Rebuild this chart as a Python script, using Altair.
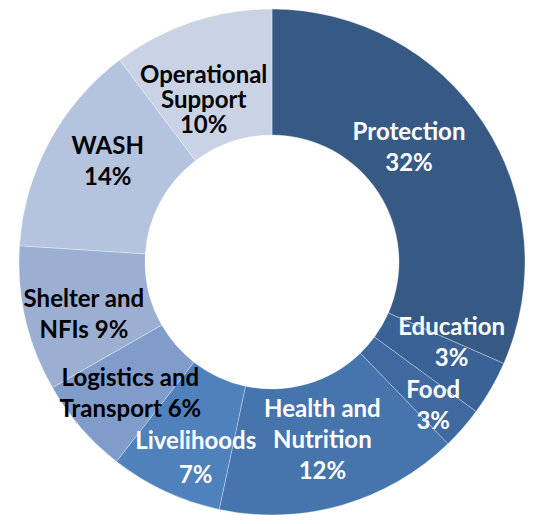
import altair as alt
import pandas as pd

sectors = ["Protection", "Education", "Food", "Health and Nutrition", "Livelihoods",
           "Logistics and Transport", "Shelter and NFIs", "WASH", "Operational Support"]
# slice shares
shares = [31.6, 3.5, 2.7, 15.6, 7.2, 6.2, 9.3, 13.7, 10.3]
# label texts as printed on the chart
labels = ["Protection\n32%", "Education\n3%", "Food\n3%", "Health and\nNutrition\n12%",
          "Livelihoods\n7%", "Logistics and\nTransport  6%", "Shelter and\nNFIs 9%",
          "WASH\n14%", "Operational\nSupport\n10%"]
palette = ["#375a84", "#3b6296", "#3f699f", "#4674ad", "#4f81bd",
           "#7f9ccb", "#9bafd2", "#b4c3de", "#cad3e5"]
text_colors = ["#ffffff"] * 5 + ["#000000"] * 4

df = pd.DataFrame({"sector": sectors, "share": shares, "label": labels,
                   "idx": list(range(len(sectors)))})
total = float(sum(shares))
theta_scale = alt.Scale(domain=[0, total])

# label nudges (pixels) relative to the slice mid-angle anchor, like Excel's placement
nudge = {
    "Protection": (-22, -10), "Education": (15, -13), "Food": (18, 20),
    "Health and Nutrition": (-2, -4), "Livelihoods": (4, 25),
    "Logistics and Transport": (2, 8), "Shelter and NFIs": (-3, 11),
    "WASH": (3, -9), "Operational Support": (-8, 19),
}
line_heights = {"Operational Support": 25, "Livelihoods": 34}

arcs = alt.Chart(df).mark_arc(innerRadius=127, outerRadius=253, stroke="#ffffff",
                              strokeWidth=0.7, strokeOpacity=0.45).encode(
    theta=alt.Theta("share:Q", stack=True, scale=theta_scale),
    order=alt.Order("idx:Q"),
    color=alt.Color("sector:N", scale=alt.Scale(domain=sectors, range=palette), legend=None),
)

label_base = alt.Chart(df).transform_window(
    cum="sum(share)", sort=[alt.SortField("idx")], frame=[None, 0]
).transform_calculate(mid="datum.cum - datum.share / 2")

layers = [arcs]
for i, s in enumerate(sectors):
    n = labels[i].count("\n") + 1
    lh = line_heights.get(s, 31)
    dx, dy = nudge[s]
    layers.append(
        label_base.mark_text(radius=190, font="Lato", fontWeight="bold", fontSize=24,
                             lineHeight=lh, lineBreak="\n", align="center",
                             baseline="middle", color=text_colors[i],
                             dx=dx, dy=dy - (n - 1) * lh / 2)
        .encode(theta=alt.Theta("mid:Q", stack=None, scale=theta_scale), text="label:N")
        .transform_filter(f"datum.idx == {i}")
    )

chart = alt.layer(*layers).properties(
    width=506, height=508,
    padding={"left": 11, "top": 0, "right": 0, "bottom": 0},
    autosize=alt.AutoSizeParams(type="none"),
).configure_view(stroke=None)

chart.save("out.html", embed_options={"renderer": "svg", "actions": False})
